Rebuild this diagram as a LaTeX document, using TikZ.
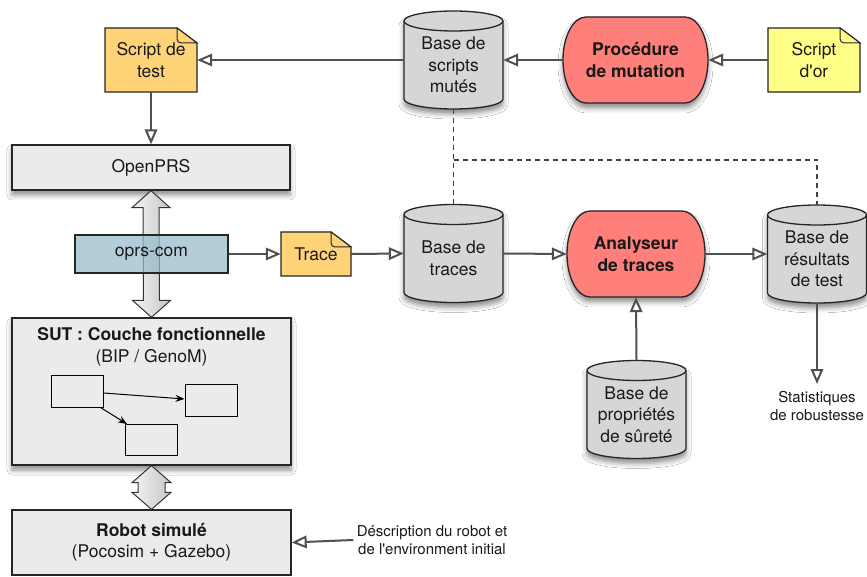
\documentclass[tikz,border=0pt]{standalone}
\usepackage{fontspec}
\setmainfont{TeX Gyre Heros}
\usetikzlibrary{arrows.meta,shadows.blur,calc}
\definecolor{arrowgray}{RGB}{80,80,80}
\definecolor{boxgray}{RGB}{235,235,235}
\definecolor{cylgray}{RGB}{214,214,214}
\definecolor{noteorange}{RGB}{255,212,121}
\definecolor{noteyellow}{RGB}{255,255,136}
\definecolor{procred}{RGB}{255,127,122}
\definecolor{oprsblue}{RGB}{150,188,203}
\tikzset{
 every node/.style={font=\fontsize{17.5}{21.5}\selectfont, align=center, text=black!90},
 small/.style={font=\fontsize{15}{17.5}\selectfont},
 shad/.style={blur shadow={shadow xshift=0pt, shadow yshift=-5pt, shadow blur radius=5pt, shadow opacity=45}},
 box/.style={draw=black!85, line width=1.3pt, fill=boxgray, inner sep=0pt},
 procshape/.style={draw=black!85, line width=1.3pt, fill=procred, shad},
 proctext/.style={inner sep=0pt, minimum height=86pt, font=\bfseries\fontsize{17.5}{21.5}\selectfont},
 dbbox/.style={inner sep=0pt, minimum width=99pt, minimum height=98pt},
 flow/.style={draw=arrowgray, line width=2pt, -{Triangle[open, length=15pt, width=12.5pt]}},
 link/.style={draw=black!75, line width=1.2pt, dash pattern=on 5pt off 4pt},
 mini/.style={draw=black, line width=1pt, minimum width=52pt, minimum height=31pt, inner sep=0pt},
 miniarrow/.style={draw=black, line width=1pt, -{Stealth[length=9pt,width=7pt]}},
 bigarrow/.style={draw=black!80, line width=1pt, left color=gray!8, right color=gray!45},
}
% cylinder: name, cx, cy, text
\newcommand\dbcyl[4]{%
 \path[draw=black!85, line width=1.3pt, fill=cylgray, shad] ({#2-49.5},{#3+39}) -- ({#2-49.5},{#3-39}) arc[start angle=180,end angle=360,x radius=49.5pt,y radius=10pt] -- ({#2+49.5},{#3+39}) arc[start angle=0,end angle=180,x radius=49.5pt,y radius=10pt] -- cycle;
 \draw[black!85, line width=1.3pt] ({#2-49.5},{#3+39}) arc[start angle=180,end angle=360,x radius=49.5pt,y radius=10pt];
 \node[dbbox] (#1) at (#2,#3) {};
 \node (#1-t) at (#2,{#3-5}) {#4};
}
% process: name, cx, cy, width, text  (height 86, half-ellipse ends)
\newcommand\procnode[5]{%
 \path[procshape] ({#2-#4/2+23},{#3+43}) -- ({#2+#4/2-23},{#3+43}) arc[start angle=90,end angle=-90,x radius=23pt,y radius=43pt] -- ({#2-#4/2+23},{#3-43}) arc[start angle=270,end angle=90,x radius=23pt,y radius=43pt] -- cycle;
 \node[proctext, minimum width=#4pt] (#1) at (#2,#3) {#5};
}
% note: name, cx, cy, w, h, colour, text
\newcommand\docnote[7]{%
 \path[draw=black!85, line width=1.3pt, fill=#6] ({#2-#4/2},{#3-#5/2}) -- ({#2-#4/2},{#3+#5/2}) -- ({#2+#4/2-20},{#3+#5/2}) -- ({#2+#4/2},{#3+#5/2-15}) -- ({#2+#4/2},{#3-#5/2}) -- cycle;
 \draw[black!85, line width=1pt, fill=#6] ({#2+#4/2-20},{#3+#5/2}) -- ({#2+#4/2-20},{#3+#5/2-11}) to[out=-90,in=180] ({#2+#4/2-16},{#3+#5/2-15}) -- ({#2+#4/2},{#3+#5/2-15}) -- cycle;
 \node[inner sep=0pt, minimum width=#4pt, minimum height=#5pt] (#1) at (#2,#3) {#7};
}
\begin{document}
\begin{tikzpicture}[x=1pt,y=1pt]
\useasboundingbox (0,0) rectangle (867,576);
\fill[white] (0,0) rectangle (867,576);

% left column boxes
\node[box, shad, minimum width=278pt, minimum height=45pt] (openprs) at (151,408.5) {OpenPRS};
\node[box, shad, minimum width=279pt, minimum height=147pt] (sut) at (151.5,184.5) {};
\node (sutt) at (151.5,229) {\textbf{SUT : Couche fonctionnelle}\\(BIP / GenoM)};
\node[box, minimum width=279pt, minimum height=65pt] (robot) at (151.5,33.5) {\textbf{Robot simulé}\\(Pocosim + Gazebo)};

% big double arrows
\path[bigarrow] (openprs.south) -- ([xshift=19pt,yshift=-17pt]openprs.south) -- ([xshift=8pt,yshift=-17pt]openprs.south)
  -- ([xshift=8pt,yshift=17pt]sut.north) -- ([xshift=19pt,yshift=17pt]sut.north) -- (sut.north)
  -- ([xshift=-19pt,yshift=17pt]sut.north) -- ([xshift=-8pt,yshift=17pt]sut.north)
  -- ([xshift=-8pt,yshift=-17pt]openprs.south) -- ([xshift=-19pt,yshift=-17pt]openprs.south) -- cycle;
\path[bigarrow] (sut.south) -- ([xshift=19.5pt,yshift=-17pt]sut.south) -- ([xshift=13.5pt,yshift=-17pt]sut.south)
  -- ([xshift=13.5pt,yshift=17pt]robot.north) -- ([xshift=19.5pt,yshift=17pt]robot.north) -- (robot.north)
  -- ([xshift=-19.5pt,yshift=17pt]robot.north) -- ([xshift=-13.5pt,yshift=17pt]robot.north)
  -- ([xshift=-13.5pt,yshift=-17pt]sut.south) -- ([xshift=-19.5pt,yshift=-17pt]sut.south) -- cycle;

\node[draw=black!85, line width=1.3pt, fill=oprsblue, fill opacity=0.72, text opacity=1, draw opacity=1, minimum width=153pt, minimum height=38pt, inner sep=0pt] (oprs) at (151.5,322) {oprs-com};

% inner boxes
\node[mini] (m1) at (77,184.5) {};
\node[mini] (m2) at (211,175.5) {};
\node[mini] (m3) at (151,136) {};
\draw[miniarrow] ([yshift=-1.5pt]m1.east) -- ([yshift=1.5pt]m2.west);
\draw[miniarrow] ([xshift=-3pt]m1.south east) -- ([xshift=-24pt]m3.north);

% notes
\docnote{sdt}{151}{516}{92}{64}{noteorange}{Script de\\test}
\docnote{trace}{316}{322}{70}{44}{noteorange}{Trace}
\docnote{sor}{814}{516}{92}{64}{noteyellow}{Script\\d\textquotesingle or}

% cylinders
\dbcyl{dbS}{453.5}{516}{Base de\\scripts\\mutés}
\dbcyl{dbT}{453.5}{322.5}{Base de\\traces}
\dbcyl{dbR}{817}{322}{Base de\\résultats\\de test}
\dbcyl{dbP}{636.5}{166.5}{Base de\\propriétés\\de sûreté}

% processes
\procnode{proc}{635.5}{516}{145}{Procédure\\de mutation}
\procnode{ana}{636}{322}{138}{Analyseur\\de traces}

% free texts
\node[small] (stat) at (817,170) {Statistiques\\de robustesse};
\node[small] (desc) at (432,36) {Déscription du robot et\\de l\textquotesingle environment initial};

% connectors
\draw[flow] (sor.west) -- (proc.east);
\draw[flow] (proc.west) -- (dbS.east);
\draw[flow] (dbS.west) -- (sdt.east);
\draw[flow] (sdt.south) -- (openprs.north);
\draw[flow] (oprs.east) -- (trace.west);
\draw[flow] (trace.east) -- (dbT.west);
\draw[flow] (dbT.east) -- (ana.west);
\draw[flow] (ana.east) -- (dbR.west);
\draw[flow] (dbP.north) -- (ana.south);
\draw[flow] (dbR.south) -- ([yshift=4pt]stat.north);
\draw[flow] (desc.west) -- (robot.east);
\draw[link] (dbS.south) -- (dbT.north);
\draw[link] (dbS.south |- 0,416) -| (dbR.north);
\end{tikzpicture}
\end{document}
